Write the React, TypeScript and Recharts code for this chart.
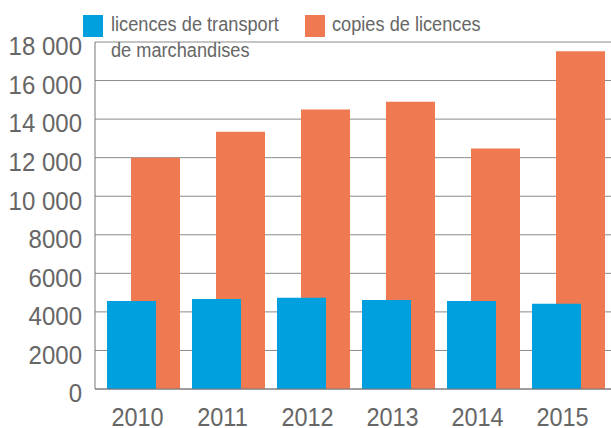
import { BarChart, Bar, XAxis, YAxis, CartesianGrid } from 'recharts';

const years = ['2010', '2011', '2012', '2013', '2014', '2015'];
const licences = [4570, 4675, 4730, 4620, 4570, 4420];
const copies = [12000, 13350, 14500, 14900, 12470, 17520];
const yTicks = [0, 2000, 4000, 6000, 8000, 10000, 12000, 14000, 16000, 18000];

const BLUE = '#00A0DF';
const ORANGE = '#EF7A51';
const TEXT = '#666666';
const FONT = '"Liberation Sans", Arial, sans-serif';

const data = years.map((year, i) => ({
  year,
  licences: licences[i],
  copies: copies[i],
}));

function fmt(v: number) {
  if (v < 10000) return String(v);
  return `${Math.floor(v / 1000)} ${String(v % 1000).padStart(3, '0')}`;
}

// the source chart's text is a bit stretched vertically
function YTick({ x, y, payload }: any) {
  return (
    <g transform={`translate(${x},${y + 4}) scale(1,1.1)`}>
      <text x={0} y={0} dy="0.355em" textAnchor="end" fill={TEXT} fontSize={24} fontFamily={FONT}>
        {fmt(payload.value)}
      </text>
    </g>
  );
}

function XTick({ x, y, payload }: any) {
  return (
    <g transform={`translate(${x},${y + 17}) scale(1,1.1)`}>
      <text x={0} y={0} textAnchor="middle" fill={TEXT} fontSize={23.5} fontFamily={FONT}>
        {payload.value}
      </text>
    </g>
  );
}

function Swatch({ color, left }: { color: string; left: number }) {
  return <div style={{ position: 'absolute', left, top: 15, width: 20, height: 22, background: color }} />;
}

const legendText = {
  position: 'absolute' as const,
  top: 12,
  whiteSpace: 'nowrap' as const,
  transform: 'scaleY(1.12)',
  transformOrigin: '0 0',
};

export default function App() {
  return (
    <div style={{ position: 'absolute', left: 0, top: 0, width: 611, height: 428, background: '#fff' }}>
      <BarChart
        width={611}
        height={428}
        data={data}
        margin={{ top: 42, right: 0, bottom: 0, left: 0 }}
      >
        <CartesianGrid vertical={false} stroke="#8a8a8a" />
        <XAxis
          dataKey="year"
          height={39}
          padding={{ left: 0, right: 6 }}
          axisLine={{ stroke: '#777' }}
          tickLine={false}
          tickSize={0}
          tickMargin={20}
          tick={<XTick />}
        />
        <XAxis xAxisId="o" dataKey="year" hide padding={{ left: 18, right: -12 }} />
        <XAxis xAxisId="b" dataKey="year" hide padding={{ left: -6, right: 12 }} />
        <YAxis
          width={95}
          domain={[0, 18000]}
          ticks={yTicks}
          interval={0}
          axisLine={{ stroke: '#777' }}
          tickLine={false}
          tickSize={0}
          tickMargin={13}
          tick={<YTick />}
        />
        <Bar xAxisId="o" dataKey="copies" fill={ORANGE} barSize={49} isAnimationActive={false} />
        <Bar xAxisId="b" dataKey="licences" fill={BLUE} barSize={49} isAnimationActive={false} />
      </BarChart>
      <div style={{ position: 'absolute', left: 0, top: 0, fontFamily: FONT, fontSize: 18.2, lineHeight: '23px', color: TEXT }}>
        <Swatch color={BLUE} left={83} />
        <div style={{ ...legendText, left: 111 }}>
          licences de transport
          <br />
          de marchandises
        </div>
        <Swatch color={ORANGE} left={305} />
        <div style={{ ...legendText, left: 332 }}>copies de licences</div>
      </div>
    </div>
  );
}
